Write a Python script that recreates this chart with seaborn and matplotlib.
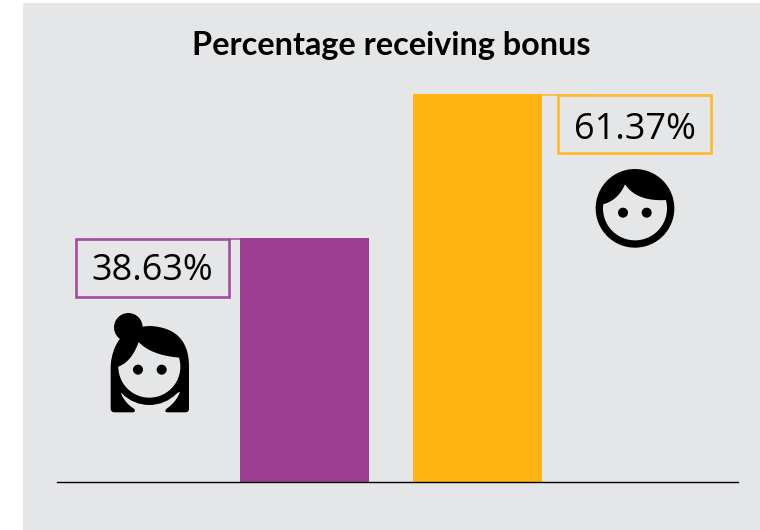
import numpy as np
import pandas as pd
import matplotlib
matplotlib.use("Agg")
import matplotlib.pyplot as plt
from matplotlib.patches import Rectangle, Circle, Polygon
import seaborn as sns

categories = ["Women", "Men"]
values = [38.63, 61.37]
colors = ["#9E3D94", "#FFB414"]
box_colors = ["#A54BA0", "#FFB92E"]
title = "Percentage receiving bonus"
PANEL = "#E5E6E8"

sns.set_theme(style="white")
W, H = 760, 530
fig = plt.figure(figsize=(W / 100, H / 100), dpi=100, facecolor="white")
fig.add_artist(Rectangle((23 / W, 0), (W - 23) / W, (H - 3) / H,
                         transform=fig.transFigure, fc=PANEL, ec="none", zorder=-5))

# main axes: pixel frame x 57..738, y 94..482
ax = fig.add_axes([57 / W, (H - 482) / H, (738 - 57) / W, (482 - 94) / H])
ax.patch.set_visible(False)
df = pd.DataFrame({"group": categories, "value": values})
sns.barplot(data=df, x="group", y="value", hue="group", palette=colors,
            width=129 / 173, saturation=1, legend=False, linewidth=0, ax=ax)
ax.set_xlim((57 - 304.5) / 173, (738 - 304.5) / 173)
ax.set_ylim(0, max(values))
ax.set(xlabel="", ylabel="", xticks=[], yticks=[])
for s in ("top", "left", "right"):
    ax.spines[s].set_visible(False)
ax.spines["bottom"].set_color("black")
ax.spines["bottom"].set_linewidth(1.0)

# overlay in pixel coordinates for title, label boxes and icons
ov = fig.add_axes([0, 0, 1, 1], zorder=3)
ov.set_xlim(0, W)
ov.set_ylim(H, 0)
ov.axis("off")

ov.text(391.5, 45, title, ha="center", va="center", fontsize=23.3,
        fontweight="bold", family="Lato", color="black")

# label boxes
for (x0, y0, x1, y1), c in zip([(76, 239, 228.5, 297), (558, 95, 711, 153)], box_colors):
    ov.add_patch(Rectangle((x0, y0), x1 - x0, y1 - y0, fc="none", ec=c, lw=1.9))
ov.plot([229, 240], [239, 239], color=box_colors[0], lw=1.4, alpha=.8)
ov.plot([542, 585], [95, 95], color=box_colors[1], lw=1.4, alpha=.8)
ov.text(152.5, 271, f"{values[0]:.2f}%", ha="center", va="center", fontsize=26,
        family="Open Sans", fontweight=500, color="black")
ov.text(635, 130, f"{values[1]:.2f}%", ha="center", va="center", fontsize=26,
        family="Open Sans", fontweight=500, color="black")


def bez(p0, p1, p2, n=24):
    t = np.linspace(0, 1, n)[:, None]
    p0, p1, p2 = map(np.array, (p0, p1, p2))
    return (1 - t) ** 2 * p0 + 2 * t * (1 - t) * p1 + t ** 2 * p2


def face_poly(c, r, right, peak, left, ctrl_l, ctrl_r):
    """Lit part of a face: lower arc of the circle closed by the fringe curve."""
    a0 = np.arctan2(right[1] - c[1], right[0] - c[0])
    a1 = np.arctan2(left[1] - c[1], left[0] - c[0])
    if a1 < a0:
        a1 += 2 * np.pi
    a = np.linspace(a0, a1, 80)
    arc = np.c_[c[0] + r * np.cos(a), c[1] + r * np.sin(a)]
    return np.vstack([arc, bez(arc[-1], ctrl_l, peak), bez(peak, ctrl_r, arc[0])])


# woman icon, designed in 3x crop coordinates with origin (60, 220)
def wz(pts):
    return np.asarray(pts, float) / 3 + np.array([60, 220])

hair = [(152, 565), (152, 440)] + bez((152, 440), (155, 385), (185, 350)).tolist() \
    + bez((185, 350), (225, 318), (272, 318)).tolist() \
    + bez((272, 318), (387, 325), (387, 440)).tolist() \
    + [(387, 565)] + bez((387, 565), (387, 577), (375, 577)).tolist() \
    + [(325, 577)] + bez((325, 577), (310, 577), (320, 566)).tolist() \
    + bez((320, 566), (350, 545), (360, 515)).tolist() \
    + bez((360, 515), (270, 560), (182, 518)).tolist() \
    + bez((182, 518), (195, 550), (222, 566)).tolist() \
    + bez((222, 566), (230, 577), (215, 577)).tolist() \
    + [(165, 577)] + bez((165, 577), (152, 577), (152, 565)).tolist()
ov.add_patch(Polygon(wz(hair), closed=True, fc="black", ec="none"))
cw = wz([(268, 440)])[0]
ov.add_patch(Circle(cw, 115 / 3, fc="black", ec="none"))
ov.add_patch(Circle(wz([(205, 322)])[0], 14.3, fc="black", ec="none"))
fw = face_poly((268, 440), 93, (360, 412), (236, 366), (175, 440), (215, 425), (272, 405))
ov.add_patch(Polygon(wz(fw), closed=True, fc=PANEL, ec="none"))
for e in [(234, 449), (305, 449)]:
    ov.add_patch(Circle(wz([e])[0], 5, fc="black", ec="none"))


# man icon, crop origin (530, 85)
def mz(pts):
    return np.asarray(pts, float) / 3 + np.array([530, 85])

ov.add_patch(Circle(mz([(315, 370)])[0], 118 / 3, fc="black", ec="none"))
fm = face_poly((315, 370), 96, (408, 345), (285, 298), (220, 358), (265, 345), (320, 350))
ov.add_patch(Polygon(mz(fm), closed=True, fc=PANEL, ec="none"))
for e in [(279, 383), (350, 383)]:
    ov.add_patch(Circle(mz([e])[0], 5, fc="black", ec="none"))

fig.savefig("out.png", dpi=100)
